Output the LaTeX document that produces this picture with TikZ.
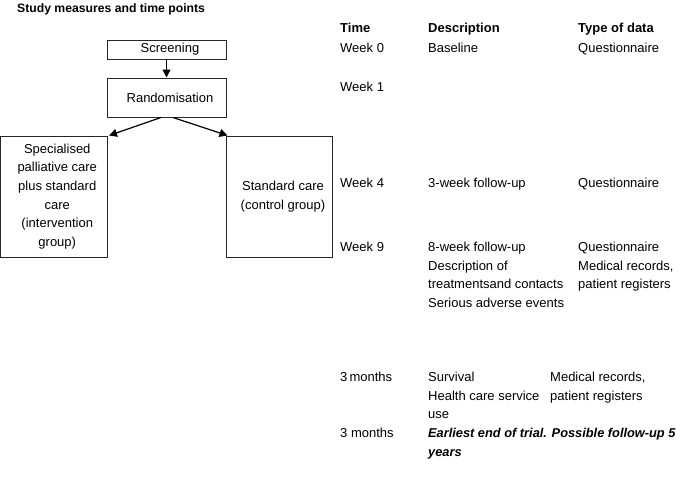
\documentclass[tikz,border=0pt]{standalone}
\usepackage{fontspec}
\setmainfont{Liberation Sans}
\usetikzlibrary{arrows.meta}
\begin{document}
\begin{tikzpicture}[x=1pt,y=-1pt,
  every node/.style={inner sep=0pt, font=\fontsize{13}{18.6}\selectfont},
  txt/.style={anchor=base west},
  hdr/.style={anchor=base west, font=\fontsize{13}{18.6}\selectfont\bfseries},
  bi/.style={anchor=base west, font=\fontsize{12.8}{18.6}\selectfont\bfseries\itshape},
  box/.style={draw=black!85, line width=1pt, align=center},
  arr/.style={line width=1.2pt, -{Triangle[length=8pt,width=8pt]}}]
\useasboundingbox (0,0) rectangle (685,477);
\fill[white] (0,0) rectangle (685,477);
% title
\node[anchor=base west, font=\fontsize{12.2}{14}\selectfont\bfseries] (title) at (17,12) {Study measures and time points};
% flow boxes
\node[box, minimum width=119pt, minimum height=19pt] (scr) at (166.5,49.5) {\hspace{7pt}Screening};
\node[box, minimum width=119pt, minimum height=39pt] (rand) at (166.5,97.5) {\hspace{7pt}Randomisation};
\node[box, minimum width=106.5pt, minimum height=121pt] (interv) at (53.75,196.5) {\hspace{7pt}\parbox{90pt}{\centering Specialised\\ palliative care\\ plus standard\\ care\\ (intervention\\ group)}};
\node[box, minimum width=106pt, minimum height=121pt] (ctrl) at (279,196.5) {\hspace{8pt}\parbox{90pt}{\centering Standard care\\ (control group)}};
\draw[arr] (scr.south) -- (rand.north);
\draw[arr] ([xshift=-5.5pt]rand.south) -- ([xshift=1.5pt]interv.north east);
\draw[arr] ([xshift=6.5pt]rand.south) -- ([xshift=2pt]ctrl.north west);
% table headers
\node[hdr] (hTime) at (340,32.5) {Time};
\node[hdr] (hDesc) at (428,32.5) {Description};
\node[hdr] (hType) at (578,32.5) {Type of data};
% rows
\node[txt] (t0) at (340,52.5) {Week 0};
\node[txt] (d0) at (428,52.5) {Baseline};
\node[txt] (q0) at (578,52.5) {Questionnaire};
\node[txt] (t1) at (340,91.5) {Week 1};
\node[txt] (t4) at (340,187.5) {Week 4};
\node[txt] (d4) at (428,187.5) {3-week follow-up};
\node[txt] (q4) at (578,187.5) {Questionnaire};
\node[txt] (t9) at (340,251.5) {Week 9};
\node[txt] (d9a) at (428,251.5) {8-week follow-up};
\node[txt] (d9b) at (428,270) {Description of};
\node[txt] (d9c) at (428,288.5) {treatmentsand contacts};
\node[txt] (d9d) at (428,307) {Serious adverse events};
\node[txt] (q9a) at (578,251.5) {Questionnaire};
\node[txt] (q9b) at (578,270) {Medical records,};
\node[txt] (q9c) at (578,288.5) {patient registers};
\node[txt] (tm1) at (340,381.5) {3\,months};
\node[txt] (dm1a) at (428,381.5) {Survival};
\node[txt] (dm1b) at (428,400) {Health care service};
\node[txt] (dm1c) at (428,418.5) {use};
\node[txt] (qm1a) at (550,381.5) {Medical records,};
\node[txt] (qm1b) at (550,400) {patient registers};
\node[txt] (tm2) at (340,437.5) {3 months};
\node[bi] (dm2a) at (428,437.5) {Earliest end of trial. Possible follow-up 5};
\node[bi] (dm2b) at (428,456) {years};
\end{tikzpicture}
\end{document}
